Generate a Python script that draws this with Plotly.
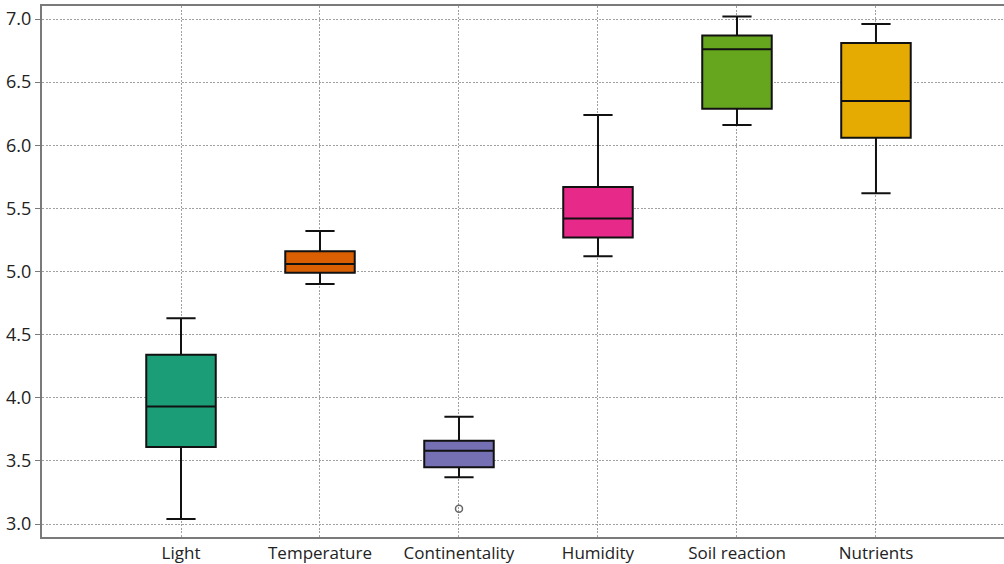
import plotly.graph_objects as go

categories = ["Light", "Temperature", "Continentality", "Humidity", "Soil reaction", "Nutrients"]
lower_whisker = [3.04, 4.90, 3.37, 5.12, 6.16, 5.62]
q1 = [3.61, 4.99, 3.45, 5.27, 6.29, 6.06]
median = [3.93, 5.06, 3.58, 5.42, 6.76, 6.35]
q3 = [4.34, 5.16, 3.66, 5.67, 6.87, 6.81]
upper_whisker = [4.63, 5.32, 3.85, 6.24, 7.02, 6.96]
outlier_cat = [2]
outlier_val = [3.12]
colors = ["#1b9e77", "#d95f02", "#7570b3", "#e7298a", "#66a61e", "#e6ab02"]
yticks = [3.0, 3.5, 4.0, 4.5, 5.0, 5.5, 6.0, 6.5, 7.0]

fig = go.Figure()
for i, c in enumerate(categories):
    fig.add_trace(go.Box(
        x=[i], q1=[q1[i]], median=[median[i]], q3=[q3[i]],
        lowerfence=[lower_whisker[i]], upperfence=[upper_whisker[i]],
        name=c, fillcolor=colors[i], line=dict(color="#111111", width=2),
        width=0.5, whiskerwidth=0.42, boxpoints=False, showlegend=False,
        hoverinfo="y",
    ))
fig.add_trace(go.Scatter(
    x=outlier_cat, y=outlier_val, mode="markers",
    marker=dict(symbol="circle-open", size=7, color="#666666", line=dict(width=1.5)),
    showlegend=False,
))

fig.update_layout(
    width=1004, height=564,
    margin=dict(l=42, r=0, t=6, b=27),
    paper_bgcolor="white", plot_bgcolor="white",
    boxmode="overlay",
    font=dict(family="Open Sans", size=17, color="#222222"),
)
fig.update_xaxes(
    range=[-1, 5.921], tickmode="array", tickvals=list(range(len(categories))),
    ticktext=categories, showgrid=True, gridcolor="#a0a0a0", griddash="2px,1.5px", gridwidth=1,
    showline=True, linecolor="#7a7a7a", linewidth=2, mirror=True, ticks="", zeroline=False,
)
fig.update_yaxes(
    range=[2.897, 7.103], tickmode="array", tickvals=yticks,
    ticktext=[f"{v:.1f}" for v in yticks], showgrid=True, gridcolor="#a0a0a0", griddash="2px,1.5px",
    gridwidth=1, showline=True, linecolor="#7a7a7a", linewidth=2, ticks="outside",
    ticklen=5, tickcolor="#7a7a7a", zeroline=False, tickfont=dict(size=18),
)
fig.write_html(
    "out.html",
    config={"displayModeBar": False},
    post_script="document.body.style.margin='0';document.body.style.overflow='hidden';",
)
